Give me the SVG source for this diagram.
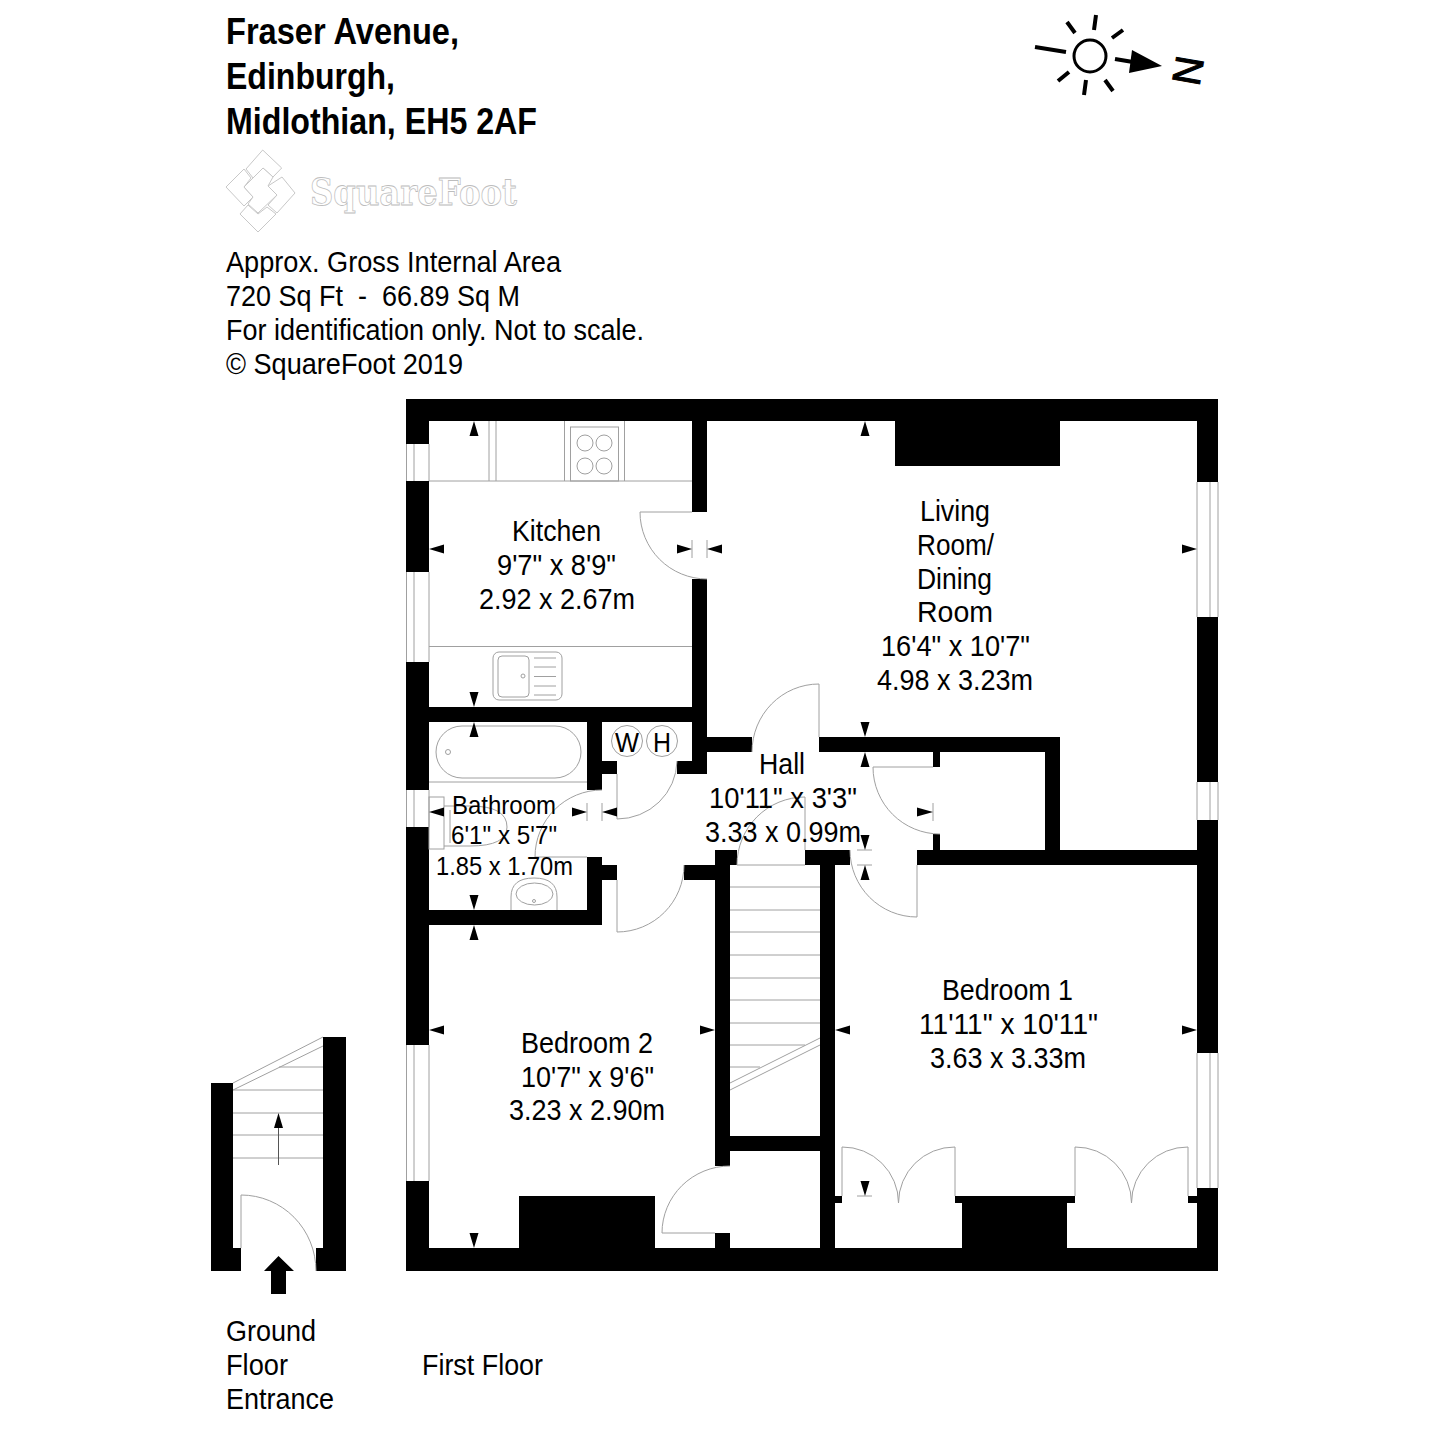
<svg xmlns="http://www.w3.org/2000/svg" width="1429" height="1429" viewBox="0 0 1429 1429">
<style>
text{font-family:"Liberation Sans",Arial,sans-serif;fill:#000;font-size:29px}
.title{font-weight:700;font-size:37px}
.sm{font-size:26px}
.wall{fill:#000}
.thin{fill:none;stroke:#a0a0a0;stroke-width:1}
.arr{fill:#000}
.logo{fill:#fff;stroke:#c8c8c8;stroke-width:1;stroke-linejoin:round}
.logot{font-family:"DejaVu Serif",serif;font-weight:700;font-size:38px;fill:#fff;stroke:#bdbdbd;stroke-width:.8}
.ray{stroke:#000;stroke-width:4;fill:none}
</style>
<rect width="1429" height="1429" fill="#fff"/>

<g id="header">
<text class="title" x="226" y="44" textLength="233" lengthAdjust="spacingAndGlyphs">Fraser Avenue,</text>
<text class="title" x="226" y="89" textLength="169" lengthAdjust="spacingAndGlyphs">Edinburgh,</text>
<text class="title" x="226" y="134" textLength="311" lengthAdjust="spacingAndGlyphs">Midlothian, EH5 2AF</text>
<text x="226" y="272" textLength="335" lengthAdjust="spacingAndGlyphs">Approx. Gross Internal Area</text>
<text x="226" y="306" textLength="294" lengthAdjust="spacingAndGlyphs" xml:space="preserve">720 Sq Ft  -  66.89 Sq M</text>
<text x="226" y="340" textLength="418" lengthAdjust="spacingAndGlyphs">For identification only. Not to scale.</text>
<text x="226" y="374" textLength="237" lengthAdjust="spacingAndGlyphs">© SquareFoot 2019</text>
</g>

<g id="logo">
<path class="logo" d="M262.7 150L281.7 168L273 177L263 168L253 178L246 169Z"/>
<path class="logo" d="M244 169L226 187L244 206L253 197L244 187L251 178Z"/>
<path class="logo" d="M282 177L295 193L277 213L268 205L277 195L268 186Z"/>
<path class="logo" d="M248 205L240 214L258 232L276 214L267 207L258 214Z"/>
<path class="logo" d="M263 168L273 177L268 186L277 195L258 213L248 204L253 197L244 187Z"/>
<text class="logot" x="310" y="205" textLength="207" lengthAdjust="spacingAndGlyphs">SquareFoot</text>
</g>

<g id="compass">
<circle cx="1090" cy="56" r="16" fill="none" stroke="#000" stroke-width="3"/>
<path class="ray" d="M1035 47L1066 52M1096 15L1094 30M1067 22L1075 33M1123 30L1112 38M1069 72L1058 81M1086 80L1084 95M1105 80L1113 91M1115 59L1133 62"/>
<path class="arr" d="M1132 50L1162 66L1129 73Z"/>
<text transform="translate(1177 54) rotate(100)" stroke="#000" stroke-width="1" style="font-size:40px">N</text>
</g>

<g id="walls">
<path class="wall" d="M406 399H1218V421H406Z
M406 1248H1218V1271H406Z
M406 399H429V444H406Z M406 481H429V572H406Z M406 662H429V790H406Z M406 827H429V1045H406Z M406 1181H429V1271H406Z
M1197 399H1218V482H1197Z M1197 617H1218V782H1197Z M1197 820H1218V1053H1197Z M1197 1188H1218V1271H1197Z
M692 421H707V512H692Z M692 579H707V774H692Z M677 761H707V774H677Z
M707 737H752V752H707Z M819 737H1060V752H819Z
M429 707H692V722H429Z
M587 722H602V790H587Z M602 761H617V774H602Z
M587 857H602V925H587Z M602 865H617V880H602Z
M429 910H602V925H429Z
M684 865H715V880H684Z
M715 850H737V865H715Z M715 865H730V1166H715Z M715 1233H730V1248H715Z
M730 1136H820V1151H730Z
M805 850H850V865H805Z M820 865H835V1248H820Z
M917 850H1197V865H917Z M1045 752H1060V850H1045Z
M933 752H940V767H933Z M933 834H940V850H933Z
M895 421H1060V466H895Z
M519 1196H655V1248H519Z
M835 1196H842V1203H835Z M1188 1196H1197V1203H1188Z
M955 1196H1075V1203H1067V1248H962V1203H955Z"/>
</g>

<g id="windows" class="thin">
<path d="M406.500 444V481M414 444V481M429 444V481M406.500 572V662M414 572V662M429 572V662M406.500 790V827M414 790V827M429 790V827M406.500 1045V1181M414 1045V1181M429 1045V1181"/>
<path d="M1197 482V617M1210 482V617M1218 482V617M1197 782V820M1210 782V820M1218 782V820M1197 1053V1188M1210 1053V1188M1218 1053V1188"/>
</g>

<g id="doors" class="thin">
<path d="M692 512H640A67 67 0 0 0 707 579"/>
<path d="M819 737V684A67 68 0 0 0 752 752"/>
<path d="M617 774V819A60 59 0 0 0 677 761"/>
<path d="M587 857H535A67 67 0 0 1 602 790"/>
<path d="M617 880V932A67 67 0 0 0 684 865"/>
<path d="M917 865V917A67 67 0 0 1 850 850"/>
<path d="M933 767H873A67 67 0 0 0 940 834"/>
<path d="M805 850V797A68 68 0 0 0 737 865"/>
<path d="M715 1233H662A68 67 0 0 1 730 1166"/>
<path d="M842 1196V1147A56 56 0 0 1 898.500 1203M955 1196V1147A56 56 0 0 0 898.500 1203"/>
<path d="M1075 1196V1147A56 56 0 0 1 1131.500 1203M1188 1196V1147A56 56 0 0 0 1131.500 1203"/>
</g>

<g id="stairs" class="thin">
<path d="M737 865H805M730 887H820M730 910H820M730 932H820M730 955H820M730 978H820M730 1000H820M730 1023H820M730 1045H805M730 1067H760M730 1083L820 1038M730 1090L820 1045"/>
</g>

<g id="fixtures" class="thin">
<path d="M429 481H692M489 421V481M496 421V481M564.500 421V481M624.500 421V481M429 646.500H692"/>
<rect x="570.500" y="427" width="48" height="54"/>
<circle cx="585" cy="443" r="8"/><circle cx="604" cy="443" r="8"/><circle cx="585" cy="466" r="8"/><circle cx="604" cy="466" r="8"/>
<rect x="493" y="652" width="69" height="48" rx="6"/>
<rect x="498" y="656" width="31" height="41" rx="4"/>
<circle cx="523" cy="676" r="2"/>
<path d="M534 658H556M534 667H556M534 676.500H556M534 686H556M534 695H556"/>
<path d="M429 782H587"/>
<rect x="436" y="726" width="145" height="52" rx="26"/>
<circle cx="448" cy="752" r="2.500"/>
<circle cx="627" cy="741" r="15.500"/><circle cx="662" cy="741" r="15.500"/>
<rect x="429" y="797" width="15" height="52"/>
<path d="M444 806H470Q507 806 507 827Q507 846 470 846H444M450 810V843"/>
<path d="M511 910V897Q511 878 534 878Q557 878 557 897V910"/>
<ellipse cx="534.500" cy="894" rx="18.500" ry="11"/>
<circle cx="534" cy="901" r="1.500"/>
</g>

<g id="dimensions">
<path class="thin" d="M692 540V558M707 540V558M587 803V821M602 803V821M857 850H872M857 865H872M857 1196H872M933 803V821"/>
<path class="arr" d="M474 421L478.500 436H469.500Z M474 707L478.500 692H469.500Z M429 549L444 544.500V553.500Z M692 549L677 544.500V553.500Z M707 549L722 544.500V553.500Z
M474 722L478.500 737H469.500Z M474 910L478.500 895H469.500Z M429 812L444 807.500V816.500Z M587 812L572 807.500V816.500Z M602 812L617 807.500V816.500Z
M474 925L478.500 940H469.500Z M429 1030L444 1025.500V1034.500Z M715 1030L700 1025.500V1034.500Z M474 1248L478.500 1233H469.500Z
M835 1030L850 1025.500V1034.500Z M1197 1030L1182 1025.500V1034.500Z M865 865L869.500 880H860.500Z M865 1196L869.500 1181H860.500Z
M865 752L869.500 767H860.500Z M865 850L869.500 835H860.500Z
M865 421L869.500 436H860.500Z M865 737L869.500 722H860.500Z M1197 549L1182 544.500V553.500Z
M933 812L917 807.500V816.500Z"/>
</g>

<g id="kitchen">
<text x="512" y="541" textLength="89" lengthAdjust="spacingAndGlyphs">Kitchen</text>
<text x="497" y="575" textLength="119" lengthAdjust="spacingAndGlyphs">9'7" x 8'9"</text>
<text x="479" y="609" textLength="156" lengthAdjust="spacingAndGlyphs">2.92 x 2.67m</text>
</g>
<g id="living">
<text x="920" y="521" textLength="70" lengthAdjust="spacingAndGlyphs">Living</text>
<text x="917" y="555" textLength="77" lengthAdjust="spacingAndGlyphs">Room/</text>
<text x="917" y="589" textLength="75" lengthAdjust="spacingAndGlyphs">Dining</text>
<text x="917" y="622" textLength="76" lengthAdjust="spacingAndGlyphs">Room</text>
<text x="881" y="656" textLength="149" lengthAdjust="spacingAndGlyphs">16'4" x 10'7"</text>
<text x="877" y="690" textLength="156" lengthAdjust="spacingAndGlyphs">4.98 x 3.23m</text>
</g>
<g id="hall">
<text x="759" y="774" textLength="46" lengthAdjust="spacingAndGlyphs">Hall</text>
<text x="709" y="808" textLength="148" lengthAdjust="spacingAndGlyphs">10'11" x 3'3"</text>
<text x="705" y="842" textLength="156" lengthAdjust="spacingAndGlyphs">3.33 x 0.99m</text>
</g>
<g id="bathroom">
<text class="sm" x="452" y="814" textLength="104" lengthAdjust="spacingAndGlyphs">Bathroom</text>
<text class="sm" x="451" y="844" textLength="106" lengthAdjust="spacingAndGlyphs">6'1" x 5'7"</text>
<text class="sm" x="436" y="875" textLength="137" lengthAdjust="spacingAndGlyphs">1.85 x 1.70m</text>
</g>
<g id="cupboard">
<text x="615" y="752" textLength="24" lengthAdjust="spacingAndGlyphs" style="font-size:28px">W</text>
<text x="653" y="752" textLength="18" lengthAdjust="spacingAndGlyphs" style="font-size:28px">H</text>
</g>
<g id="bedroom2">
<text x="521" y="1053" textLength="132" lengthAdjust="spacingAndGlyphs">Bedroom 2</text>
<text x="521" y="1087" textLength="133" lengthAdjust="spacingAndGlyphs">10'7" x 9'6"</text>
<text x="509" y="1120" textLength="156" lengthAdjust="spacingAndGlyphs">3.23 x 2.90m</text>
</g>
<g id="bedroom1">
<text x="942" y="1000" textLength="131" lengthAdjust="spacingAndGlyphs">Bedroom 1</text>
<text x="919" y="1034" textLength="179" lengthAdjust="spacingAndGlyphs">11'11" x 10'11"</text>
<text x="930" y="1068" textLength="156" lengthAdjust="spacingAndGlyphs">3.63 x 3.33m</text>
</g>

<g id="ground-floor">
<path class="wall" d="M211 1083H233V1248H241V1271H211Z M323 1037H346V1271H316V1248H323Z"/>
<path class="thin" d="M233 1158H323M233 1135H323M233 1113H323M233 1090H323M279 1067H323M233 1083L323 1037M233 1090L323 1046"/>
<path class="thin" d="M241 1248V1195A75 76 0 0 1 316 1271"/>
<path d="M278.500 1165V1125" stroke="#555" stroke-width="1" fill="none"/>
<path class="arr" d="M278.500 1113L283 1128H274Z"/>
<path class="arr" d="M278.500 1256L294 1271H286V1294H271V1271H264Z"/>
<text x="226" y="1341" textLength="90" lengthAdjust="spacingAndGlyphs">Ground</text>
<text x="226" y="1375" textLength="62" lengthAdjust="spacingAndGlyphs">Floor</text>
<text x="226" y="1409" textLength="108" lengthAdjust="spacingAndGlyphs">Entrance</text>
</g>
<g id="first-floor-label">
<text x="422" y="1375" textLength="121" lengthAdjust="spacingAndGlyphs">First Floor</text>
</g>
</svg>
